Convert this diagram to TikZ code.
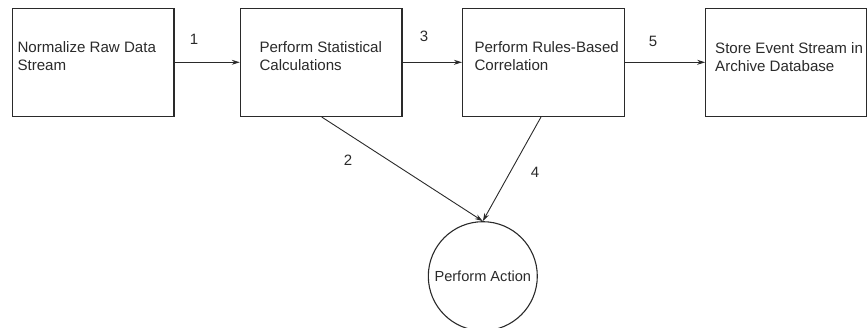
\documentclass[tikz,border=0pt]{standalone}
\usepackage{fontspec}
\setmainfont{Liberation Sans}
\usetikzlibrary{arrows.meta}
\definecolor{ink}{HTML}{2A2A2A}
\tikzset{
  stepbox/.style={draw=ink, line width=1.1pt, rectangle, inner sep=0pt, minimum width=161.7pt, minimum height=108.4pt},
  boxtext/.style={anchor=north west, inner sep=0pt, align=left, text=ink, font=\fontsize{15.1}{18}\selectfont},
  actcircle/.style={draw=ink, line width=1.1pt, circle, inner sep=0pt, minimum size=109pt, text=ink, font=\fontsize{14.6}{17}\selectfont},
  flow/.style={draw=ink, line width=0.9pt, -{Stealth[length=8pt,width=5pt]}},
  num/.style={text=ink, font=\fontsize{15}{18}\selectfont, inner sep=0pt}
}
\begin{document}
\begin{tikzpicture}[x=1pt,y=-1pt]
\useasboundingbox (0,0) rectangle (867,328);
% boxes
\node[stepbox] (b1) at (93.15,62.5) {};
\node[stepbox] (b2) at (321.15,62.5) {};
\node[stepbox] (b3) at (543.35,62.5) {};
\node[stepbox, minimum width=160.6pt] (b4) at (786.0,62.5) {};
% texts
\node[boxtext] (t1) at (17.3,41.5) {Normalize Raw Data\\Stream};
\node[boxtext] (t2) at (259.3,41.5) {Perform Statistical\\Calculations};
\node[boxtext] (t3) at (474.3,41.5) {Perform Rules-Based\\Correlation};
\node[boxtext] (t4) at (715.0,42.5) {Store Event Stream in\\Archive Database};
% circle
\node[actcircle] (act) at (482.8,276.2) {Perform Action};
% end points
\coordinate (b1e) at (b1.east |- 0,62.3);
\coordinate (b2w) at (b2.west |- 0,62.3);
\coordinate (b2e) at (b2.east |- 0,62.3);
\coordinate (b3w) at (b3.west |- 0,62.3);
\coordinate (b3e) at (b3.east |- 0,62.3);
\coordinate (b4w) at (b4.west |- 0,62.3);
\coordinate (b2s) at (321.7,117);
\coordinate (b3s) at (541,117);
% connectors
\draw[flow] (b1e) -- (b2w);
\draw[flow] (b2e) -- (b3w);
\draw[flow] (b3e) -- (b4w);
\draw[flow] (b2s) -- (act.north);
\draw[flow] (b3s) -- (act.north);
% labels
\node[num] (n1) at (194,39) {1};
\node[num] (n3) at (424,36.5) {3};
\node[num] (n5) at (653,41) {5};
\node[num] (n2) at (348,160) {2};
\node[num] (n4) at (535,172) {4};
\end{tikzpicture}
\end{document}
